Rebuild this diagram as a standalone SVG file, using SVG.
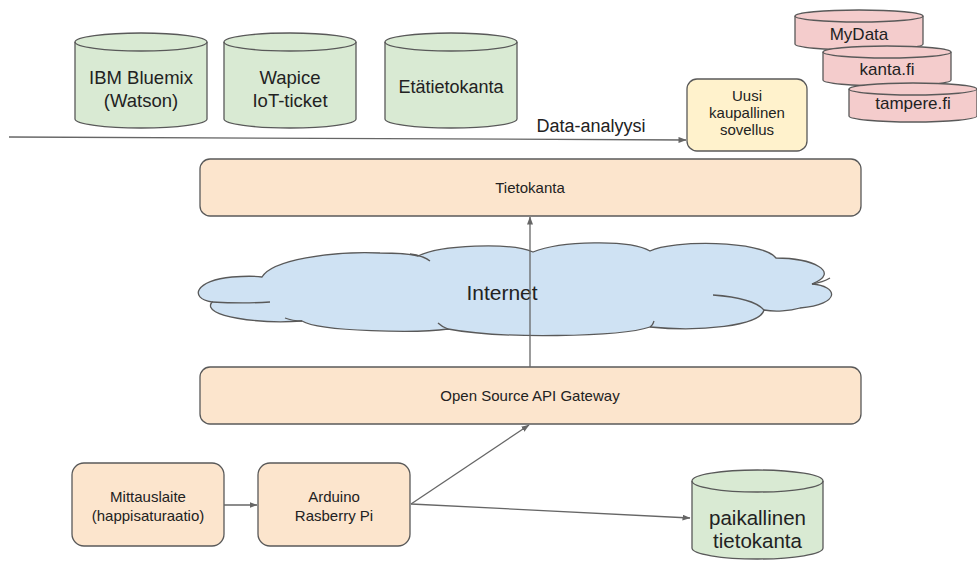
<svg xmlns="http://www.w3.org/2000/svg" width="977" height="561" viewBox="0 0 977 561">
<style>
text{font-family:"Liberation Sans",Arial,sans-serif;fill:#222;text-anchor:middle}
.g{fill:#d9ead3;stroke:#595959;stroke-width:1.3}
.p{fill:#f4cccc;stroke:#595959;stroke-width:1.3}
.o{fill:#fce5cd;stroke:#595959;stroke-width:1.3}
.y{fill:#fff2cc;stroke:#595959;stroke-width:1.3}
.c{fill:#cfe2f3;stroke:#595959;stroke-width:1.3}
.t{fill:none;stroke:#595959;stroke-width:1.3}
.e{fill:none;stroke:#666;stroke-width:1.3;marker-end:url(#ah)}
.s{font-size:15px}
</style>
<defs>
<marker id="ah" markerWidth="8" markerHeight="6" refX="7.5" refY="3" orient="auto" markerUnits="userSpaceOnUse">
<path d="M0,0 L8,3 L0,6 z" fill="#666"/>
</marker>
</defs>

<g id="ibm">
<path class="g" d="M75,42 A66,9 0 0 1 207,42 V119 A66,9 0 0 1 75,119 Z"/>
<path class="t" d="M75,42 A66,9 0 0 0 207,42"/>
<text x="141" y="84" font-size="18.5">IBM Bluemix</text>
<text x="141" y="107" font-size="18.5">(Watson)</text>
</g>
<g id="wapice">
<path class="g" d="M224,42 A66,9 0 0 1 356,42 V119 A66,9 0 0 1 224,119 Z"/>
<path class="t" d="M224,42 A66,9 0 0 0 356,42"/>
<text x="290" y="84" font-size="18.5">Wapice</text>
<text x="290" y="107" font-size="18.5">IoT-ticket</text>
</g>
<g id="etatietokanta">
<path class="g" d="M385,42 A66,9 0 0 1 517,42 V119 A66,9 0 0 1 385,119 Z"/>
<path class="t" d="M385,42 A66,9 0 0 0 517,42"/>
<text x="451" y="93" font-size="18">Etätietokanta</text>
</g>

<g id="mydata">
<path class="p" d="M795,16 A64,6 0 0 1 923,16 V44 A64,6 0 0 1 795,44 Z"/>
<path class="t" d="M795,16 A64,6 0 0 0 923,16"/>
<text x="859" y="40" font-size="17">MyData</text>
</g>
<g id="kanta">
<path class="p" d="M823,52 A64,6 0 0 1 951,52 V80 A64,6 0 0 1 823,80 Z"/>
<path class="t" d="M823,52 A64,6 0 0 0 951,52"/>
<text x="887" y="75" font-size="17">kanta.fi</text>
</g>
<g id="tampere">
<path class="p" d="M849,89 A64,6 0 0 1 977,89 V116 A64,6 0 0 1 849,116 Z"/>
<path class="t" d="M849,89 A64,6 0 0 0 977,89"/>
<text x="913" y="109" font-size="17">tampere.fi</text>
</g>

<g id="uusi">
<rect class="y" x="687" y="79" width="120" height="72" rx="10"/>
<text class="s" x="747" y="101">Uusi</text>
<text class="s" x="747" y="118">kaupallinen</text>
<text class="s" x="747" y="135">sovellus</text>
</g>

<g id="tietokanta">
<rect class="o" x="200" y="159" width="661" height="57" rx="10"/>
<text class="s" x="530" y="193">Tietokanta</text>
</g>

<g id="internet">
<path class="c" d="M212,302 C188,298 196,280 232,277 C245,276 255,276 262,277 C272,260 330,251 380,253 C398,253 410,254 418,256 C440,245 510,242 533,252 C560,241 630,239 650,251 C672,240 762,240 776,258 C812,258 842,272 812,284 C838,286 842,304 800,308 C790,311 775,312 764,310 C760,326 700,332 650,327 C620,337 500,339 448,329 C420,333 320,332 302,321 C262,324 200,317 212,302 Z"/>
<path class="t" d="M410,254 C418,255 425,257 430,261"/>
<path class="t" d="M812,284 C818,283 825,281 830,278"/>
<path class="t" d="M713,295 C740,297 757,302 764,310"/>
<path class="t" d="M212,302 C230,303 255,303 270,302"/>
<path class="t" d="M302,321 C295,321 290,320 285,318"/>
<path class="t" d="M448,329 C443,327 440,325 438,323"/>
<path class="t" d="M650,327 C652,326 653,324 654,321"/>
<text x="502" y="300" font-size="21">Internet</text>
</g>

<g id="gateway">
<rect class="o" x="200" y="367" width="661" height="57" rx="10"/>
<text class="s" x="530" y="401">Open Source API Gateway</text>
</g>

<g id="mittauslaite">
<rect class="o" x="72" y="463" width="152" height="83" rx="12"/>
<text class="s" x="148" y="502">Mittauslaite</text>
<text class="s" x="148" y="521">(happisaturaatio)</text>
</g>
<g id="arduino">
<rect class="o" x="258" y="463" width="152" height="83" rx="12"/>
<text class="s" x="334" y="502">Arduino</text>
<text class="s" x="334" y="521">Rasberry Pi</text>
</g>

<g id="paikallinen">
<path class="g" d="M692,481 A65.5,11 0 0 1 823,481 V548 A65.5,11 0 0 1 692,548 Z"/>
<path class="t" d="M692,481 A65.5,11 0 0 0 823,481"/>
<text x="757.5" y="525" font-size="20.5">paikallinen</text>
<text x="757.5" y="548" font-size="20.5">tietokanta</text>
</g>

<g id="connectors">
<path class="e" d="M9,137 L686,140"/>
<path class="e" d="M530,367 L530,217"/>
<path class="e" d="M224,505 L257,505"/>
<path class="e" d="M411,504 L529,425"/>
<path class="e" d="M411,504 L690,518"/>
</g>
<text x="591" y="132" font-size="18">Data-analyysi</text>
</svg>
